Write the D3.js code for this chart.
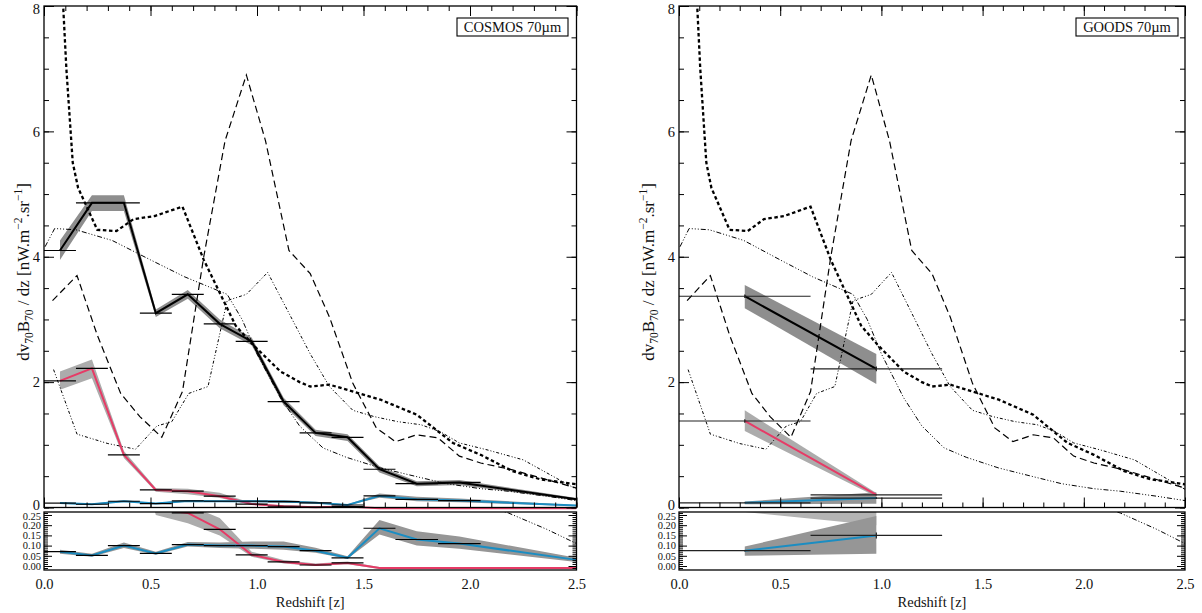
<!DOCTYPE html>
<html><head><meta charset="utf-8">
<script src="https://cdn.jsdelivr.net/npm/d3@7"></script>
<style>
body{margin:0;background:#fff}
svg{display:block}
text{font-family:"Liberation Serif","Times New Roman",serif;fill:#111}
</style>
</head><body><svg id="c" width="1202" height="613"></svg>
<script>
// ---------- Model curves (same in both panels) ----------
const zA = [0.07,0.09,0.105,0.135,0.16,0.25,0.34,0.42,0.52,0.65,0.75,0.85,0.9,0.98,1.11,1.2,1.25,1.34,1.48,1.58,1.75,1.92,2.05,2.2,2.33,2.5];
const vA = [10,8.0,7.0,5.5,5.1,4.43,4.41,4.6,4.65,4.8,3.95,3.25,2.9,2.6,2.17,2.0,1.93,1.96,1.82,1.72,1.48,1.03,0.84,0.58,0.45,0.37];
const zB = [0.04,0.155,0.25,0.36,0.45,0.553,0.65,0.75,0.85,0.95,1.04,1.15,1.25,1.34,1.45,1.56,1.65,1.75,1.85,1.95,2.05,2.2,2.5];
const vB = [3.3,3.7,2.75,1.82,1.45,1.12,1.85,4.0,5.85,6.9,5.85,4.1,3.73,3.04,1.98,1.27,1.05,1.16,1.11,0.82,0.71,0.6,0.31];
const zC = [0.005,0.05,0.15,0.32,0.5,0.66,0.86,0.93,1.0,1.11,1.2,1.31,1.42,1.58,1.74,1.89,2.05,2.18,2.36,2.5];
const vC = [4.16,4.45,4.43,4.26,3.95,3.68,3.4,3.0,2.45,1.75,1.3,0.95,0.8,0.63,0.5,0.38,0.3,0.26,0.18,0.11];
const zD = [0.045,0.155,0.3,0.43,0.53,0.6,0.68,0.77,0.86,0.95,1.05,1.15,1.25,1.34,1.45,1.55,1.66,1.77,1.86,1.95,2.08,2.25,2.5];
const vD = [2.2,1.17,1.02,0.93,1.3,1.37,1.82,1.93,3.3,3.4,3.75,3.1,2.45,1.93,1.55,1.45,1.37,1.32,1.21,1.03,0.92,0.76,0.29];

// ---------- COSMOS 70um measurements ----------
const cosZ     = [0.075,0.225,0.375,0.525,0.675,0.825,0.975,1.125,1.275,1.425,1.575,1.75,1.95,2.5];
const cosBinLo = [0,0.15,0.3,0.45,0.6,0.75,0.9,1.05,1.2,1.35,1.5,1.65,1.85,null];
const cosBinHi = [0.15,0.3,0.45,0.6,0.75,0.9,1.05,1.2,1.35,1.5,1.65,1.85,2.05,null];
const cosTot   = [4.10,4.86,4.86,3.10,3.40,2.93,2.65,1.69,1.19,1.12,0.61,0.38,0.40,0.13];
const cosTotLo = [3.95,4.73,4.73,3.04,3.33,2.86,2.59,1.63,1.14,1.06,0.56,0.34,0.36,0.11];
const cosTotHi = [4.26,4.98,4.98,3.16,3.47,3.00,2.71,1.75,1.24,1.17,0.66,0.42,0.44,0.15];
const cosPink   = [2.02,2.22,0.84,0.28,0.26,0.18,0.055,0.02,0.005,0.015,-0.01,-0.01,-0.01,-0.01];
const cosPinkLo = [1.88,2.06,0.79,0.25,0.21,0.15,0.045,0.012,0.0,0.008,-0.015,-0.015,-0.015,-0.015];
const cosPinkHi = [2.17,2.36,0.90,0.31,0.30,0.235,0.07,0.03,0.012,0.022,-0.005,-0.005,-0.005,-0.005];
const cosBlue   = [0.07,0.052,0.10,0.062,0.105,0.10,0.10,0.095,0.075,0.04,0.185,0.13,0.11,0.03];
const cosBlueLo = [0.06,0.045,0.088,0.055,0.095,0.088,0.085,0.08,0.065,0.035,0.155,0.10,0.085,0.02];
const cosBlueHi = [0.08,0.06,0.115,0.07,0.118,0.115,0.12,0.12,0.09,0.048,0.225,0.17,0.145,0.04];

// ---------- GOODS 70um measurements ----------
const goodsZ     = [0.325,0.975];
const goodsBinLo = [0,0.65];
const goodsBinHi = [0.65,1.3];
const goodsTot   = [3.37,2.21];
const goodsTotLo = [3.18,1.97];
const goodsTotHi = [3.55,2.45];
const goodsPink   = [1.38,0.20];
const goodsPinkLo = [1.22,0.17];
const goodsPinkHi = [1.55,0.23];
const goodsBlue   = [0.075,0.15];
const goodsBlueLo = [0.05,0.06];
const goodsBlueHi = [0.095,0.245];
// light upper band seen in the GOODS lower panel
const goodsSubLightLo = [0.265,0.20];
const goodsSubLightHi = [0.30,0.30];

// ---------- ticks / labels ----------
const xMajor = [0,0.5,1.0,1.5,2.0,2.5];
const yMajor = [0,2,4,6,8];
const subMajor = [0,0.05,0.10,0.15,0.20,0.25];
const panelLabels = ["COSMOS 70µm","GOODS 70µm"];
const xTitle = "Redshift [z]";

const PINK = "#e63b66", BLUE = "#1b8dc2";
const svg = d3.select("#c");

function pts(z, v, lo, hi){ return z.map((d,i)=>({z:d, v:v?v[i]:null, lo:lo?lo[i]:null, hi:hi?hi[i]:null})); }

const panels = [
  {id:"L", x0:44, x1:576.5, label:panelLabels[0], boxX:457, boxW:111, titleX:29, barColor:"#000", yerr:false, subPink:true,
   z:cosZ, bLo:cosBinLo, bHi:cosBinHi,
   tot:pts(cosZ,cosTot,cosTotLo,cosTotHi), pink:pts(cosZ,cosPink,cosPinkLo,cosPinkHi), blue:pts(cosZ,cosBlue,cosBlueLo,cosBlueHi),
   light:null},
  {id:"R", x0:679, x1:1185, label:panelLabels[1], boxX:1076, boxW:102, titleX:654, barColor:"#222", yerr:true, subPink:false,
   z:goodsZ, bLo:goodsBinLo, bHi:goodsBinHi,
   tot:pts(goodsZ,goodsTot,goodsTotLo,goodsTotHi), pink:pts(goodsZ,goodsPink,goodsPinkLo,goodsPinkHi), blue:pts(goodsZ,goodsBlue,goodsBlueLo,goodsBlueHi),
   light:pts(goodsZ,null,goodsSubLightLo,goodsSubLightHi)}
];

const models = [
  {d:pts(zA,vA), w:2.3, dash:"3.5,2.6"},
  {d:pts(zB,vB), w:1.2, dash:"7,4"},
  {d:pts(zC,vC), w:1.0, dash:"5,2,1,2,1,2,1,2"},
  {d:pts(zD,vD), w:1.0, dash:"3,2,1,2,1,2"}
];

const MAIN_T = 6, MAIN_B = 507.5, SUB_T = 512, SUB_B = 570;
const defs = svg.append("defs");

function axisG(gen, tx, ty){
  const g = svg.append("g").attr("transform",`translate(${tx},${ty})`).attr("color","#000").call(gen);
  g.select(".domain").remove();
  g.attr("font-family",null).attr("font-size",null);
  g.selectAll("line").attr("stroke-width",1);
  g.selectAll("text").attr("font-family","Liberation Serif");
  return g;
}

panels.forEach(p=>{
  const x = d3.scaleLinear().domain([0,2.5]).range([p.x0,p.x1]);
  const y = d3.scaleLinear().domain([0,8]).range([MAIN_B,MAIN_T]);
  const ys = d3.scaleLinear().domain([-0.0196,0.2647]).range([SUB_B,SUB_T]);

  defs.append("clipPath").attr("id","cm"+p.id).append("rect")
    .attr("x",p.x0).attr("y",MAIN_T).attr("width",p.x1-p.x0).attr("height",MAIN_B-MAIN_T+2.5);
  defs.append("clipPath").attr("id","cs"+p.id).append("rect")
    .attr("x",p.x0).attr("y",SUB_T).attr("width",p.x1-p.x0).attr("height",SUB_B-SUB_T);

  function layer(yy, clipId, isMain){
    const g = svg.append("g").attr("clip-path",`url(#${clipId})`);
    const band = d3.area().x(d=>x(d.z)).y0(d=>yy(d.lo)).y1(d=>yy(d.hi));
    const line = d3.line().x(d=>x(d.z)).y(d=>yy(d.v));
    const drawPink = isMain || p.subPink;
    if(isMain) g.append("path").attr("d",band(p.tot)).attr("fill","#8e8e8e");
    if(drawPink) g.append("path").attr("d",band(p.pink)).attr("fill","#acacac");
    if(!isMain && p.light) g.append("path").attr("d",band(p.light)).attr("fill","#b4b4b4");
    g.append("path").attr("d",band(p.blue)).attr("fill","#969696");
    models.forEach(m=>{
      g.append("path").attr("d",line(m.d)).attr("fill","none").attr("stroke","#000")
        .attr("stroke-width",m.w).attr("stroke-dasharray",m.dash);
    });
    if(isMain) g.append("path").attr("d",line(p.tot)).attr("fill","none").attr("stroke","#000").attr("stroke-width",2);
    if(drawPink) g.append("path").attr("d",line(p.pink)).attr("fill","none").attr("stroke",PINK).attr("stroke-width",2);
    g.append("path").attr("d",line(p.blue)).attr("fill","none").attr("stroke",BLUE).attr("stroke-width",2);
    const series = [];
    if(isMain) series.push(p.tot);
    if(drawPink) series.push(p.pink);
    series.push(p.blue);
    series.forEach(s=>{
      s.forEach((d,i)=>{
        if(p.bLo[i]==null || d.v<0) return;
        g.append("line").attr("x1",x(p.bLo[i])).attr("x2",x(p.bHi[i]))
          .attr("y1",yy(d.v)).attr("y2",yy(d.v)).attr("stroke",p.barColor).attr("stroke-width",1.2);
        if(p.yerr){
          const e = (d.hi-d.lo)*0.08;
          g.append("line").attr("x1",x(d.z)).attr("x2",x(d.z))
            .attr("y1",yy(d.v-e)).attr("y2",yy(d.v+e)).attr("stroke",p.barColor).attr("stroke-width",1.2);
        }
      });
    });
  }
  layer(y,"cm"+p.id,true);
  layer(ys,"cs"+p.id,false);

  // frames
  svg.append("rect").attr("x",p.x0).attr("y",MAIN_T).attr("width",p.x1-p.x0).attr("height",MAIN_B-MAIN_T)
    .attr("fill","none").attr("stroke","#000").attr("stroke-width",1.3);
  svg.append("rect").attr("x",p.x0).attr("y",SUB_T).attr("width",p.x1-p.x0).attr("height",SUB_B-SUB_T)
    .attr("fill","none").attr("stroke","#000").attr("stroke-width",1.3);

  // main y axes
  const yl = axisG(d3.axisLeft(y).tickValues(yMajor).tickSize(-10).tickPadding(4).tickFormat(d3.format("d")), p.x0, 0);
  yl.selectAll("text").attr("font-size",14.5)
    .attr("dy", d => d===8 ? "0.55em" : (d===0 ? "0.12em" : "0.32em"));
  axisG(d3.axisLeft(y).tickValues(d3.range(0,8.01,0.5)).tickSize(-5).tickFormat(""), p.x0, 0);
  axisG(d3.axisRight(y).tickValues(yMajor).tickSize(-10).tickFormat(""), p.x1, 0);
  axisG(d3.axisRight(y).tickValues(d3.range(0,8.01,0.5)).tickSize(-5).tickFormat(""), p.x1, 0);
  // main x ticks top & bottom
  const xMinor = d3.range(0,2.501,0.1);
  axisG(d3.axisTop(x).tickValues(xMajor).tickSize(-10).tickFormat(""), 0, MAIN_T);
  axisG(d3.axisTop(x).tickValues(xMinor).tickSize(-5).tickFormat(""), 0, MAIN_T);
  axisG(d3.axisBottom(x).tickValues(xMajor).tickSize(-10).tickFormat(""), 0, MAIN_B);
  axisG(d3.axisBottom(x).tickValues(xMinor).tickSize(-5).tickFormat(""), 0, MAIN_B);
  // sub axes
  const sl = axisG(d3.axisLeft(ys).tickValues(subMajor).tickSize(-8).tickPadding(3).tickFormat(d3.format(".2f")), p.x0, 0);
  sl.selectAll("text").attr("font-size",10.5).attr("dy", d => d===0.25 ? "0.42em" : "0.32em");
  const subMinor = d3.range(-1,27).map(i=>i/100);
  axisG(d3.axisLeft(ys).tickValues(subMinor).tickSize(-4).tickFormat(""), p.x0, 0);
  axisG(d3.axisRight(ys).tickValues(subMajor).tickSize(-8).tickFormat(""), p.x1, 0);
  axisG(d3.axisRight(ys).tickValues(subMinor).tickSize(-4).tickFormat(""), p.x1, 0);
  const xb = axisG(d3.axisBottom(x).tickValues(xMajor).tickSize(0).tickPadding(9).tickFormat(d3.format(".1f")), 0, SUB_B);
  xb.selectAll("text").attr("font-size",14.5);

  // x title
  svg.append("text").attr("x",(p.x0+p.x1)/2).attr("y",607).attr("text-anchor","middle")
    .attr("font-size",14.5).text(xTitle);

  // y title
  const t = svg.append("text").attr("transform",`translate(${p.titleX},272) rotate(-90)`)
    .attr("text-anchor","middle").attr("font-size",17);
  t.append("tspan").text("dv");
  t.append("tspan").attr("font-size",11.5).attr("dy",4).text("70");
  t.append("tspan").attr("dy",-4).text("B");
  t.append("tspan").attr("font-size",11.5).attr("dy",4).text("70");
  t.append("tspan").attr("dy",-4).text(" / dz [nW.m");
  t.append("tspan").attr("font-size",11.5).attr("dy",-7).text("−2");
  t.append("tspan").attr("dy",7).text(".sr");
  t.append("tspan").attr("font-size",11.5).attr("dy",-7).text("−1");
  t.append("tspan").attr("dy",7).text("]");

  // label box
  svg.append("rect").attr("x",p.boxX).attr("y",18).attr("width",p.boxW).attr("height",18)
    .attr("fill","#fff").attr("stroke","#000").attr("stroke-width",1.1);
  svg.append("text").attr("x",p.boxX+p.boxW/2).attr("y",32).attr("text-anchor","middle")
    .attr("font-size",14.5).text(p.label);
});
</script>
</body></html>
